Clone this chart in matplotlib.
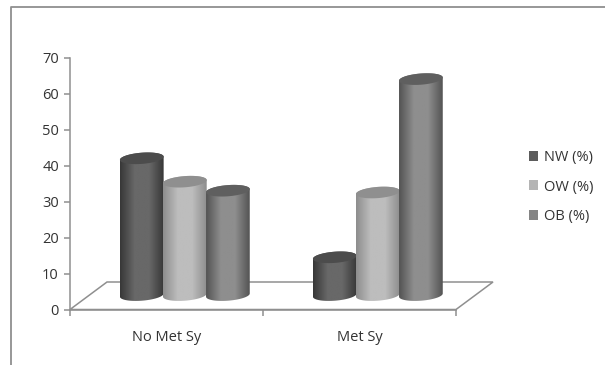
import numpy as np
import matplotlib
matplotlib.use("Agg")
import matplotlib.pyplot as plt
from matplotlib.patches import Patch, Polygon
from matplotlib.colors import LinearSegmentedColormap
from matplotlib.lines import Line2D

categories = ["No Met Sy", "Met Sy"]
series_names = ["NW (%)", "OW (%)", "OB (%)"]
nw_values = [38, 10.5]
ow_values = [31.5, 28.5]
ob_values = [29, 60]
series_values = [nw_values, ow_values, ob_values]
y_ticks = [0, 10, 20, 30, 40, 50, 60, 70]

edge_cols = ["#383838", "#8e8e8e", "#545454"]
mid_cols = ["#686868", "#bdbdbd", "#8e8e8e"]
top_cols = ["#4c4c4c", "#8f8f8f", "#5f5f5f"]
legend_cols = ["#5c5c5c", "#b4b4b4", "#858585"]
GREY = "#8f8f8f"
TXT = "#333333"

W, H = 605, 365
fig = plt.figure(figsize=(W / 100, H / 100), dpi=100)
plt.rcParams["font.family"] = ["Open Sans", "DejaVu Sans"]
L, R, T, B = 70, 456, 57.5, 309.5
ax = fig.add_axes([L / W, 1 - B / H, (R - L) / W, (B - T) / H])
ax.set_xlim(-0.5, 1.5)
ax.set_ylim(0, 70)
sx = (R - L) / 2
sy = (B - T) / 70

# depth shift of the 3-D floor
dx, dy = 37 / sx, 27.5 / sy
floor = Polygon([(-0.5, 0), (-0.5 + dx, dy), (1.5 + dx, dy), (1.5, 0)], closed=True,
                fc="white", ec=GREY, lw=1.1, clip_on=False, zorder=1)
ax.add_patch(floor)

bar_w = 0.2265
base = 4.0
shift = 0.095
ry = 5.6 / sy
tilt = 1.6 / sy


def arc(cx, cy, t):
    x = cx + bar_w / 2 * np.cos(t)
    y = cy + ry * np.sin(t) + tilt * np.cos(t)
    return x, y


for s, vals in enumerate(series_values):
    cmap = LinearSegmentedColormap.from_list(
        "c", [edge_cols[s], mid_cols[s], mid_cols[s], edge_cols[s]])
    for c, v in enumerate(vals):
        cx = c + shift + (s - 1) * bar_w * 0.985
        ytop = base + v
        tb = np.linspace(np.pi, 2 * np.pi, 40)
        xb, yb = arc(cx, base, tb)
        tt = np.linspace(0, np.pi, 40)
        xt, yt = arc(cx, ytop, tt)
        verts = np.column_stack([np.r_[xb, xt], np.r_[yb, yt]])
        z = 3 + s + c * 10
        body = Polygon(verts, closed=True, fc="none", ec="none", zorder=z)
        ax.add_patch(body)
        grad = np.linspace(0, 1, 64).reshape(1, -1)
        im = ax.imshow(grad, cmap=cmap,
                       extent=(cx - bar_w / 2, cx + bar_w / 2, base - ry * 1.6, ytop + ry * 1.6),
                       aspect="auto", zorder=z, interpolation="bilinear")
        im.set_clip_path(body)
        tfull = np.linspace(0, 2 * np.pi, 80)
        xe, ye = arc(cx, ytop, tfull)
        ax.add_patch(Polygon(np.column_stack([xe, ye]), closed=True,
                             fc=top_cols[s], ec="none", zorder=z + 0.5))
ax.set_xlim(-0.5, 1.5)
ax.set_ylim(0, 70)

for sp in ["top", "right"]:
    ax.spines[sp].set_visible(False)
for sp in ["left", "bottom"]:
    ax.spines[sp].set_color(GREY)
    ax.spines[sp].set_linewidth(1.1)
    ax.spines[sp].set_zorder(2)
ax.patch.set_alpha(0)

ax.set_yticks(y_ticks)
ax.tick_params(axis="y", color=GREY, length=4, width=1.1, labelsize=10.5, labelcolor=TXT, pad=4)
ax.set_xticks([-0.5, 0.5, 1.5])
ax.set_xticklabels([])
ax.tick_params(axis="x", which="major", color=GREY, length=4, width=1.1)
ax.set_xticks([0, 1], minor=True)
ax.set_xticklabels(categories, minor=True)
ax.tick_params(axis="x", which="minor", length=0, labelsize=10.5, labelcolor=TXT, pad=15)

handles = [Patch(fc=col, ec="none", label=n) for col, n in zip(legend_cols, series_names)]
ax.legend(handles=handles, loc="center left", bbox_to_anchor=(528.5 / W, 1 - 187 / H),
          bbox_transform=fig.transFigure, frameon=False, fontsize=10.5, labelcolor=TXT,
          handlelength=0.68, handleheight=0.68, handletextpad=0.35, labelspacing=1.0,
          borderpad=0, borderaxespad=0)

# outer chart frame: only top and left edges are visible
fig.add_artist(Line2D([11.5 / W, 11.5 / W, 1], [0, 1 - 6.5 / H, 1 - 6.5 / H], color=GREY, lw=1.3))

fig.savefig("out.png", dpi=100, facecolor="white")
